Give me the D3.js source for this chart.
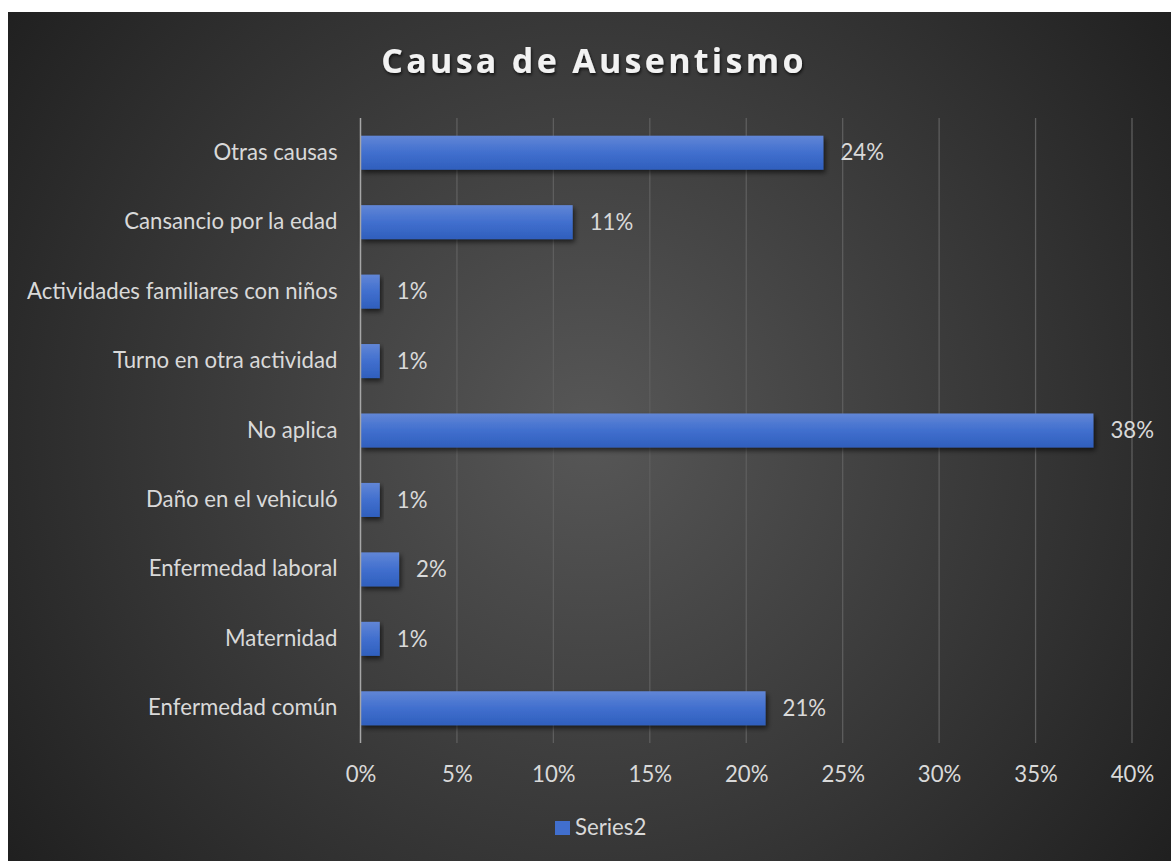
<!DOCTYPE html>
<html>
<head>
<meta charset="utf-8">
<script src="https://cdn.jsdelivr.net/npm/d3@7"></script>
<style>
  body { margin: 0; background: #fff; }
  text { font-family: Lato, sans-serif; }
</style>
</head>
<body>
<div id="chart"></div>
<script>
// data, bottom to top as in the source
var categories = ['Enfermedad común', 'Maternidad', 'Enfermedad laboral', 'Daño en el vehiculó',
	'No aplica', 'Turno en otra actividad', 'Actividades familiares con niños',
	'Cansancio por la edad', 'Otras causas'];
var values = [0.21, 0.01, 0.02, 0.01, 0.38, 0.01, 0.01, 0.11, 0.24];
var ticks = [0, 0.05, 0.10, 0.15, 0.20, 0.25, 0.30, 0.35, 0.40];
var seriesName = 'Series2';
var title = 'Causa de Ausentismo';

var W = 1171, H = 861;
var font = 'Lato, sans-serif';
var fs = 22.2;
var svg = d3.select('#chart').append('svg').attr('width', W).attr('height', H);
var defs = svg.append('defs');

var bg = defs.append('radialGradient').attr('id', 'bg')
	.attr('gradientUnits', 'userSpaceOnUse')
	.attr('cx', 590).attr('cy', 430).attr('r', 720);
bg.append('stop').attr('offset', '0%').attr('stop-color', '#575757');
bg.append('stop').attr('offset', '100%').attr('stop-color', '#202020');

var barGrad = defs.append('linearGradient').attr('id', 'barg')
	.attr('x1', 0).attr('y1', 0).attr('x2', 0).attr('y2', 1);
barGrad.append('stop').attr('offset', '0%').attr('stop-color', '#6186d6');
barGrad.append('stop').attr('offset', '50%').attr('stop-color', '#416fce');
barGrad.append('stop').attr('offset', '100%').attr('stop-color', '#2f5fbd');

var shadow = defs.append('filter').attr('id', 'shadow')
	.attr('x', '-10%').attr('y', '-30%').attr('width', '130%').attr('height', '180%');
shadow.append('feDropShadow').attr('dx', 2).attr('dy', 3).attr('stdDeviation', 2.5)
	.attr('flood-color', '#000').attr('flood-opacity', 0.6);

var tshadow = defs.append('filter').attr('id', 'tshadow');
tshadow.append('feDropShadow').attr('dx', 1).attr('dy', 2).attr('stdDeviation', 1.5)
	.attr('flood-color', '#000').attr('flood-opacity', 0.7);

svg.append('rect').attr('x', 8).attr('y', 12).attr('width', W - 8).attr('height', H - 12)
	.attr('fill', 'url(#bg)');

var x = d3.scaleLinear().domain([0, 0.4]).range([360.5, 1132]);
var y = d3.scaleBand().domain(categories.slice().reverse()).range([118, 743]).paddingInner(0.51).paddingOuter(0.255);

// grid
svg.append('g').selectAll('line').data(ticks.slice(1)).enter().append('line')
	.attr('x1', function(d) { return x(d); }).attr('x2', function(d) { return x(d); })
	.attr('y1', 118).attr('y2', 743)
	.attr('stroke', '#5e5e5e').attr('stroke-width', 1.3);

// bars
svg.append('g').selectAll('rect').data(categories).enter().append('rect')
	.attr('x', x(0))
	.attr('y', function(d) { return y(d); })
	.attr('width', function(d, i) { return x(values[i]) - x(0); })
	.attr('height', y.bandwidth())
	.attr('fill', 'url(#barg)')
	.attr('filter', 'url(#shadow)');

// value axis line
svg.append('line').attr('x1', x(0)).attr('x2', x(0)).attr('y1', 118).attr('y2', 743)
	.attr('stroke', '#a6a6a6').attr('stroke-width', 1.5);

// data labels
svg.append('g').selectAll('text').data(categories).enter().append('text')
	.attr('x', function(d, i) { return x(values[i]) + 17; })
	.attr('y', function(d) { return y(d) + y.bandwidth() / 2; })
	.attr('dy', '0.35em')
	.attr('fill', '#d9d9d9').attr('font-size', fs)
	.text(function(d, i) { return d3.format('.0%')(values[i]); });

// category labels
var yAxis = d3.axisLeft(y).tickSize(0).tickPadding(23);
var ya = svg.append('g').attr('transform', 'translate(' + x(0) + ',0)').call(yAxis);
ya.select('.domain').remove();
ya.selectAll('text').attr('fill', '#d9d9d9').attr('font-size', fs)
	.style('font-family', font);

// value ticks
var xAxis = d3.axisBottom(x).tickValues(ticks).tickFormat(d3.format('.0%')).tickSize(0).tickPadding(23);
var xa = svg.append('g').attr('transform', 'translate(0,743)').call(xAxis);
xa.select('.domain').remove();
xa.selectAll('text').attr('fill', '#d9d9d9').attr('font-size', fs)
	.style('font-family', font);

// title
svg.append('text').attr('x', 594).attr('y', 73).attr('text-anchor', 'middle')
	.attr('fill', '#f2f2f2').attr('font-size', 34).attr('font-weight', 'bold')
	.attr('letter-spacing', 3.3).attr('filter', 'url(#tshadow)')
	.style('font-family', '"Open Sans", sans-serif')
	.text(title);

// legend
svg.append('rect').attr('x', 555).attr('y', 821).attr('width', 15).attr('height', 14)
	.attr('fill', '#416fce');
svg.append('text').attr('x', 575).attr('y', 835).attr('fill', '#d9d9d9').attr('font-size', fs)
	.text(seriesName);
</script>
</body>
</html>
